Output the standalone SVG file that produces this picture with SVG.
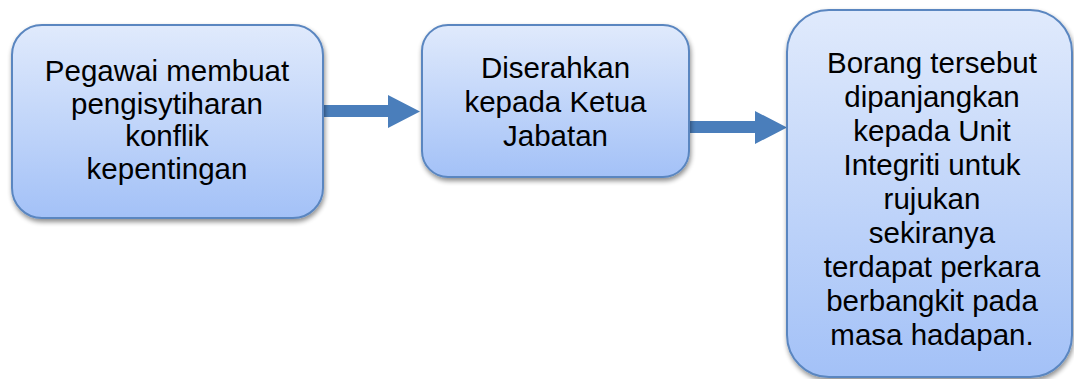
<svg xmlns="http://www.w3.org/2000/svg" width="1074" height="379" viewBox="0 0 1074 379">
<defs>
<linearGradient id="g" x1="0" y1="0" x2="0" y2="1">
<stop offset="0" stop-color="#e0eafc"/>
<stop offset="1" stop-color="#a3c1f7"/>
</linearGradient>
<filter id="sh" x="-10%" y="-10%" width="120%" height="125%">
<feGaussianBlur in="SourceAlpha" stdDeviation="2.5"/>
<feOffset dx="1" dy="3" result="b"/>
<feComponentTransfer><feFuncA type="linear" slope="0.45"/></feComponentTransfer>
<feMerge><feMergeNode/><feMergeNode in="SourceGraphic"/></feMerge>
</filter>
</defs>
<style>
.box{fill:url(#g);stroke:#5a86c0;stroke-width:2;filter:url(#sh)}
.t{font-family:"Liberation Sans",Arial,sans-serif;font-size:29.5px;fill:#000;text-anchor:middle}
.arr{fill:#4a7ebb}
</style>
<g id="connectors">
<polygon class="arr" points="323,105 388,105 388,95 420,111.5 388,128 388,117 323,117"/>
<polygon class="arr" points="689,121 755,121 755,111 787,127.5 755,144 755,133 689,133"/>
</g>
<g id="node1">
<rect class="box" x="12" y="25" width="311" height="193" rx="30"/>
<text class="t" x="167" y="81">Pegawai membuat</text>
<text class="t" x="167" y="113.5">pengisytiharan</text>
<text class="t" x="167" y="146">konflik</text>
<text class="t" x="167" y="178.5">kepentingan</text>
</g>
<g id="node2">
<rect class="box" x="422" y="25" width="267" height="152" rx="26"/>
<text class="t" x="555.5" y="78">Diserahkan</text>
<text class="t" x="555.5" y="112">kepada Ketua</text>
<text class="t" x="555.5" y="146">Jabatan</text>
</g>
<g id="node3">
<rect class="box" x="787" y="10" width="285" height="367" rx="42"/>
<text class="t" x="932" y="73">Borang tersebut</text>
<text class="t" x="932" y="107">dipanjangkan</text>
<text class="t" x="932" y="141">kepada Unit</text>
<text class="t" x="932" y="175">Integriti untuk</text>
<text class="t" x="932" y="209">rujukan</text>
<text class="t" x="932" y="243">sekiranya</text>
<text class="t" x="932" y="277">terdapat perkara</text>
<text class="t" x="932" y="311">berbangkit pada</text>
<text class="t" x="932" y="345">masa hadapan.</text>
</g>
</svg>
